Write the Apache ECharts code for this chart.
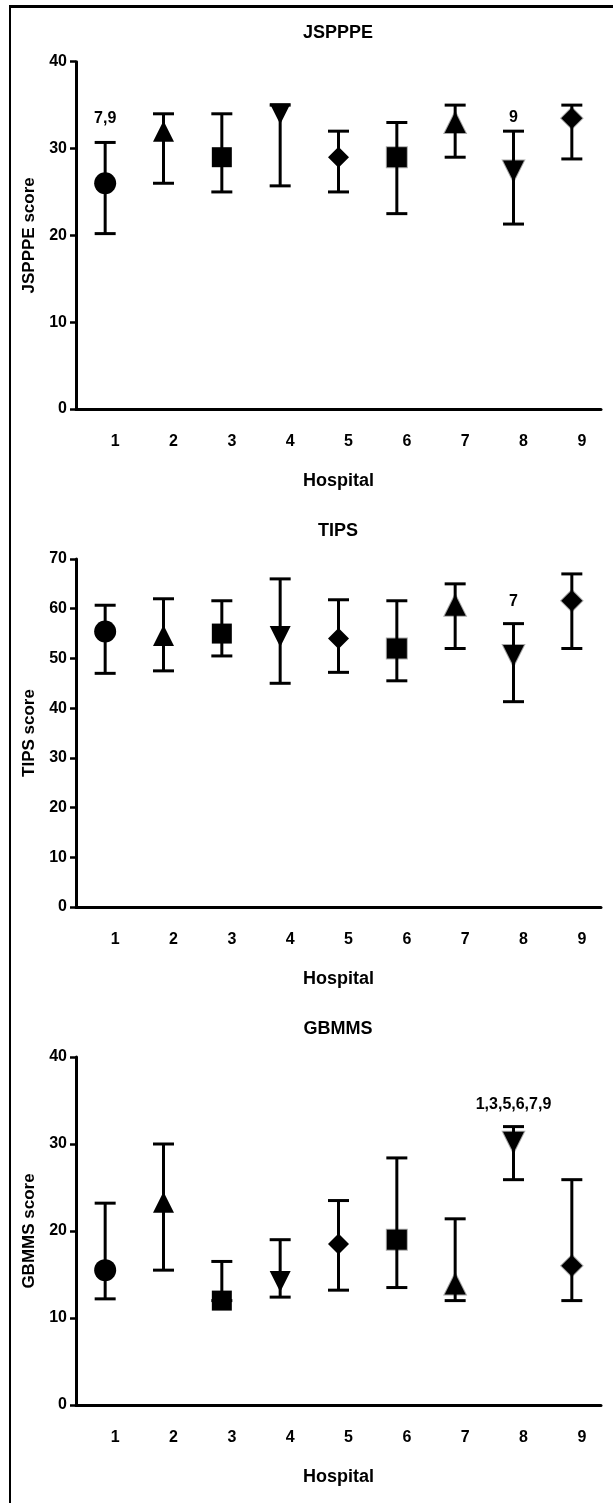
<!DOCTYPE html>
<html>
<head>
<meta charset="utf-8">
<script src="https://cdn.jsdelivr.net/npm/echarts@6/dist/echarts.min.js"></script>
<style>
  html, body { margin: 0; padding: 0; background: #fff; }
  #wrap { position: relative; width: 613px; height: 1503px; }
  #frame {
    position: absolute; left: 9px; top: 5px; right: 0; bottom: 0;
    border-left: 2px solid #000; border-top: 3px solid #000;
  }
  #chart { position: absolute; left: 0; top: 0; width: 613px; height: 1503px; }
</style>
</head>
<body>
<div id="wrap">
  <div id="frame"></div>
  <div id="chart"></div>
</div>
<script>
const hospitals = ['1', '2', '3', '4', '5', '6', '7', '8', '9']
const symbols = ['circle', 'triangle', 'rect', 'triangle', 'diamond', 'rect', 'triangle', 'triangle', 'diamond']
const rotations = [0, 0, 0, 180, 0, 0, 0, 180, 0]

// JSPPPE
const jspppeMean = [26, 32, 29, 34, 29, 29, 33, 27.4, 33.5]
const jspppeHigh = [30.7, 34, 34, 35, 32, 33, 35, 32, 35]
const jspppeLow = [20.2, 26, 25, 25.7, 25, 22.5, 29, 21.3, 28.8]
const jspppeNotes = [['1', 33.4, '7,9'], ['8', 33.6, '9']]

// TIPS
const tipsMean = [55.4, 54.6, 55, 54.4, 54, 52, 60.7, 50.6, 61.6]
const tipsHigh = [60.7, 62, 61.6, 66, 61.8, 61.6, 65, 57, 67]
const tipsLow = [47, 47.5, 50.5, 45, 47.2, 45.5, 52, 41.3, 52]
const tipsNotes = [['8', 61.5, '7']]

// GBMMS
const gbmmsMean = [15.5, 23.3, 12, 14.2, 18.5, 19, 13.9, 30.2, 16]
const gbmmsHigh = [23.2, 30, 16.5, 19, 23.5, 28.4, 21.4, 32, 25.9]
const gbmmsLow = [12.2, 15.5, 12, 12.4, 13.2, 13.5, 12, 25.9, 12]
const gbmmsNotes = [['8', 34.5, '1,3,5,6,7,9']]

const panels = [
  { title: 'JSPPPE', yName: 'JSPPPE score', max: 40, mean: jspppeMean, high: jspppeHigh, low: jspppeLow, notes: jspppeNotes, top: 61.7, bottom: 409, titleY: 33.5 },
  { title: 'TIPS', yName: 'TIPS score', max: 70, mean: tipsMean, high: tipsHigh, low: tipsLow, notes: tipsNotes, top: 559, bottom: 907, titleY: 531 },
  { title: 'GBMMS', yName: 'GBMMS score', max: 40, mean: gbmmsMean, high: gbmmsHigh, low: gbmmsLow, notes: gbmmsNotes, top: 1057, bottom: 1405, titleY: 1029.5 },
]

const FONT = "'Liberation Sans', Arial, sans-serif"
const INK = '#000'

// sizes of the mean markers, by symbol
const markerSize = { circle: 22, triangle: 21, rect: 20, diamond: 21 }

function renderErrorBar(params, api) {
  const x = api.value(0)
  const top = api.coord([x, api.value(1)])
  const bot = api.coord([x, api.value(2)])
  const half = 10.5
  const style = { stroke: '#000', lineWidth: 3 }
  return {
    type: 'group',
    children: [
      { type: 'line', shape: { x1: top[0], y1: top[1], x2: bot[0], y2: bot[1] }, style },
      { type: 'line', shape: { x1: top[0] - half, y1: top[1], x2: top[0] + half, y2: top[1] }, style },
      { type: 'line', shape: { x1: bot[0] - half, y1: bot[1], x2: bot[0] + half, y2: bot[1] }, style },
    ],
  }
}

const chart = echarts.init(document.getElementById('chart'), null, { renderer: 'canvas' })

const grid = []
const xAxis = []
const yAxis = []
const series = []
const graphic = []

panels.forEach((p, i) => {
  grid.push({ left: 76, right: 12, top: p.top, height: p.bottom - p.top })

  xAxis.push({
    type: 'category',
    gridIndex: i,
    data: hospitals,
    name: 'Hospital',
    nameLocation: 'middle',
    nameGap: 63,
    nameTextStyle: { fontFamily: FONT, fontWeight: 'bold', fontSize: 18, color: INK },
    axisLine: { lineStyle: { color: '#000', width: 3 } },
    axisTick: { alignWithLabel: true, length: 7, lineStyle: { color: '#000', width: 3 } },
    axisLabel: {
      margin: 25,
      padding: [0, 0, 0, 20],
      fontFamily: FONT,
      fontWeight: 'bold',
      fontSize: 16,
      color: INK,
    },
    splitLine: { show: false },
  })

  yAxis.push({
    type: 'value',
    gridIndex: i,
    min: 0,
    max: p.max,
    interval: 10,
    name: p.yName,
    nameLocation: 'middle',
    nameGap: 33,
    nameTextStyle: { fontFamily: FONT, fontWeight: 'bold', fontSize: 17, color: INK },
    axisLine: { show: true, lineStyle: { color: '#000', width: 3 } },
    axisTick: { show: true, length: 6, lineStyle: { color: '#000', width: 2.5 } },
    axisLabel: { margin: 9, fontFamily: FONT, fontWeight: 'bold', fontSize: 16, color: INK },
    splitLine: { show: false },
  })

  series.push({
    type: 'custom',
    xAxisIndex: i,
    yAxisIndex: i,
    renderItem: renderErrorBar,
    encode: { x: 0, y: [1, 2] },
    data: hospitals.map((h, j) => [h, p.high[j], p.low[j]]),
    z: 2,
    silent: true,
  })

  series.push({
    type: 'scatter',
    xAxisIndex: i,
    yAxisIndex: i,
    z: 3,
    silent: true,
    data: hospitals.map((h, j) => ({
      value: [h, p.mean[j]],
      symbol: symbols[j],
      symbolRotate: rotations[j],
      symbolSize: markerSize[symbols[j]],
      itemStyle: j >= 5
        ? { color: '#000', opacity: 1, borderColor: 'rgba(0,0,0,0.35)', borderWidth: 2 }
        : { color: '#000', opacity: 1 },
    })),
  })

  series.push({
    type: 'scatter',
    xAxisIndex: i,
    yAxisIndex: i,
    z: 4,
    silent: true,
    symbolSize: 0,
    itemStyle: { opacity: 1 },
    data: p.notes.map((n) => ({ value: [n[0], n[1]], note: n[2] })),
    label: {
      show: true,
      position: 'inside',
      formatter: (d) => d.data.note,
      fontFamily: FONT,
      fontWeight: 'bold',
      fontSize: 16,
      color: INK,
    },
  })

  graphic.push({
    type: 'text',
    x: 338,
    y: p.titleY,
    style: {
      text: p.title,
      align: 'center',
      verticalAlign: 'middle',
      font: `bold 18px ${FONT}`,
      fill: INK,
    },
  })
})

chart.setOption({
  animation: false,
  backgroundColor: 'transparent',
  grid,
  xAxis,
  yAxis,
  series,
  graphic,
})
</script>
</body>
</html>
